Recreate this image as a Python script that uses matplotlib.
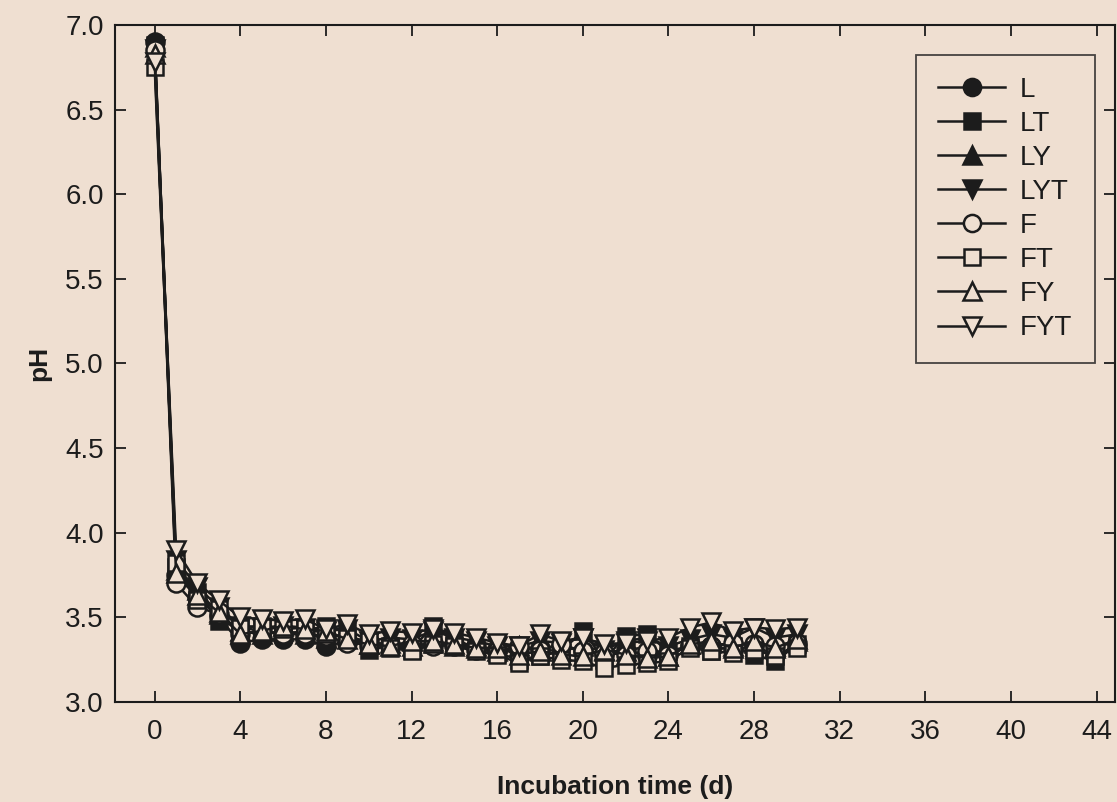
import numpy as np
import matplotlib.pyplot as plt

plt.rcParams['font.family'] = ['Liberation Sans', 'DejaVu Sans']

bg = '#efdfd1'
ink = '#1c1c1c'

days = list(range(31))

ph_L = [6.90, 3.75, 3.62, 3.50, 3.35, 3.37, 3.37, 3.37, 3.33, 3.36, 3.33, 3.34, 3.32, 3.35, 3.33, 3.33,
        3.30, 3.31, 3.32, 3.33, 3.30, 3.28, 3.31, 3.27, 3.29, 3.33, 3.33, 3.31, 3.33, 3.28, 3.33]
ph_LT = [6.88, 3.80, 3.65, 3.48, 3.44, 3.42, 3.40, 3.42, 3.45, 3.42, 3.31, 3.33, 3.31, 3.45, 3.37, 3.32,
         3.29, 3.25, 3.27, 3.30, 3.42, 3.25, 3.39, 3.40, 3.30, 3.33, 3.30, 3.33, 3.28, 3.24, 3.34]
ph_LY = [6.87, 3.78, 3.66, 3.52, 3.42, 3.40, 3.42, 3.40, 3.38, 3.40, 3.34, 3.35, 3.33, 3.35, 3.33, 3.33,
         3.30, 3.33, 3.31, 3.30, 3.33, 3.30, 3.30, 3.33, 3.27, 3.34, 3.35, 3.33, 3.35, 3.33, 3.36]
ph_LYT = [6.86, 3.84, 3.68, 3.56, 3.45, 3.44, 3.45, 3.44, 3.42, 3.43, 3.36, 3.38, 3.37, 3.42, 3.38, 3.36,
          3.33, 3.33, 3.36, 3.35, 3.38, 3.31, 3.36, 3.38, 3.33, 3.37, 3.40, 3.38, 3.44, 3.38, 3.40]
ph_F = [6.85, 3.70, 3.56, 3.52, 3.40, 3.42, 3.40, 3.40, 3.39, 3.35, 3.36, 3.33, 3.34, 3.33, 3.34, 3.31,
        3.30, 3.33, 3.31, 3.34, 3.30, 3.29, 3.28, 3.30, 3.28, 3.33, 3.33, 3.35, 3.34, 3.33, 3.35]
ph_FT = [6.75, 3.82, 3.60, 3.55, 3.44, 3.45, 3.43, 3.44, 3.40, 3.38, 3.36, 3.32, 3.30, 3.34, 3.33, 3.30,
         3.28, 3.23, 3.27, 3.25, 3.24, 3.20, 3.22, 3.23, 3.24, 3.32, 3.30, 3.29, 3.31, 3.27, 3.32]
ph_FY = [6.83, 3.76, 3.63, 3.53, 3.40, 3.42, 3.45, 3.43, 3.42, 3.37, 3.34, 3.33, 3.36, 3.36, 3.34, 3.32,
         3.32, 3.28, 3.30, 3.28, 3.27, 3.31, 3.28, 3.26, 3.27, 3.34, 3.36, 3.32, 3.36, 3.32, 3.37]
ph_FYT = [6.78, 3.90, 3.70, 3.60, 3.50, 3.49, 3.48, 3.49, 3.43, 3.46, 3.40, 3.42, 3.41, 3.43, 3.41, 3.38,
          3.35, 3.33, 3.40, 3.36, 3.38, 3.34, 3.35, 3.36, 3.38, 3.44, 3.47, 3.42, 3.44, 3.43, 3.44]

labels = ['L', 'LT', 'LY', 'LYT', 'F', 'FT', 'FY', 'FYT']
series = [ph_L, ph_LT, ph_LY, ph_LYT, ph_F, ph_FT, ph_FY, ph_FYT]
markers = ['o', 's', '^', 'v', 'o', 's', '^', 'v']
filled = [True, True, True, True, False, False, False, False]

fig = plt.figure(figsize=(11.17, 8.02), dpi=100, facecolor=bg)
ax = fig.add_axes([0.103, 0.1247, 0.895, 0.8443])
ax.set_facecolor(bg)

for lab, vals, m, f in zip(labels, series, markers, filled):
    ms = 13 if m != 's' else 12
    ax.plot(days, vals, color=ink, lw=1.8, marker=m, markersize=ms,
            markerfacecolor=ink if f else bg, markeredgecolor=ink,
            markeredgewidth=1.8, label=lab)

ax.set_xlim(-1.85, 44.85)
ax.set_ylim(3.0, 7.0)
ax.set_xticks(np.arange(0, 45, 4))
ax.set_yticks(np.arange(3.0, 7.01, 0.5))
ax.set_yticklabels([f'{v:.1f}' for v in np.arange(3.0, 7.01, 0.5)])
ax.tick_params(direction='in', length=8, width=1.3, colors=ink, labelsize=20,
               top=True, right=True)
ax.tick_params(axis='x', pad=12)
ax.tick_params(axis='y', pad=8)
for s in ax.spines.values():
    s.set_color(ink)
    s.set_linewidth(1.5)

ax.set_xlabel('Incubation time (d)', fontsize=19, fontweight='bold', color=ink, labelpad=22)
ax.set_ylabel('pH', fontsize=19, fontweight='bold', color=ink, labelpad=10)

leg = ax.legend(loc='upper right', bbox_to_anchor=(0.98, 0.956), borderaxespad=0,
                fontsize=20, frameon=True, fancybox=False, edgecolor=ink, facecolor=bg,
                handlelength=2.4, labelspacing=0.29, borderpad=0.8, handletextpad=0.55,
                markerscale=0.95)
leg.get_frame().set_linewidth(1.3)
for t in leg.get_texts():
    t.set_color(ink)

fig.savefig('out.png', dpi=100, facecolor=bg)
